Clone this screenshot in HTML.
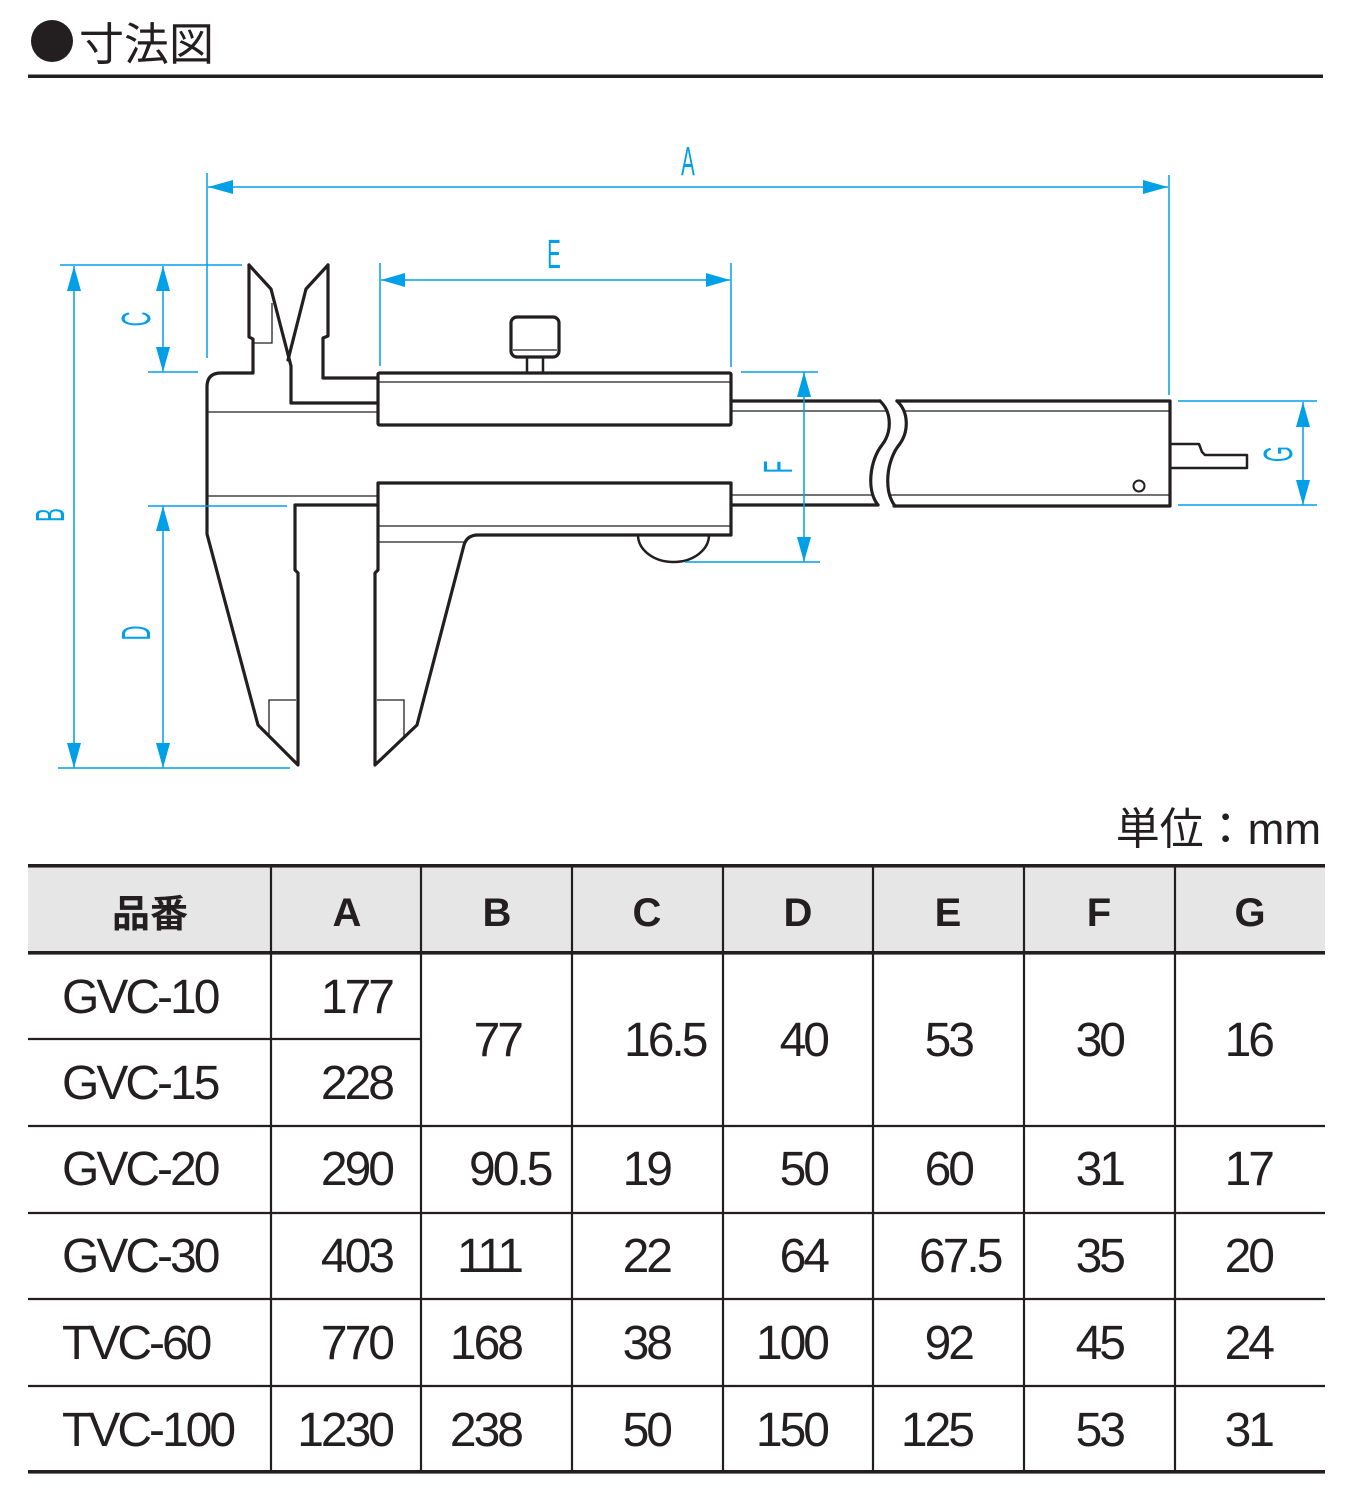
<!DOCTYPE html>
<html><head><meta charset="utf-8">
<style>
html,body{margin:0;padding:0;background:#fff;}
svg{display:block;}
</style></head><body>
<svg width="1350" height="1500" viewBox="0 0 1350 1500" xmlns="http://www.w3.org/2000/svg">
<rect width="1350" height="1500" fill="#fff"/>
<!-- Title -->
<circle cx="52" cy="41" r="21" fill="#231f20"/>
<text x="79" y="60" font-family="'Liberation Sans','Noto Sans CJK JP',sans-serif" font-size="45" fill="#231f20">寸法図</text>
<rect x="28" y="74.5" width="1295" height="3.5" fill="#231f20"/>

<!-- Caliper drawing (black) -->
<g fill="none" stroke="#231f20" stroke-width="3.2" stroke-linejoin="round" stroke-linecap="round">
  <path d="M249,265 L249,337 L253,339 L253,373 L221,373 Q207,373 207,387 L207,534 L258,725 L298,765 L298,573 L295,570 L295,505 L378,505"/>
  <path d="M249,265 L271,289 L291,366 L291,403 L378,403"/>
  <path d="M328,265 L306,289 L288,360"/>
  <path d="M328,265 L328,336 L323,338 L323,378 L378,378"/>
  <rect x="378" y="373" width="353" height="52" rx="1.5"/>
  <path d="M378,483 L731,483 L731,535 L478,535 Q467,535 464,545 L417,725 L375,765 L375,573 L378,570 Z"/>
  <path d="M731,401 L880,401"/>
  <path d="M731,505 L878,505"/>
  <path d="M880,401 C892,412 892,432 882,445 C870,460 866,490 878,505"/>
  <path d="M897,401 C909,412 909,432 899,445 C887,460 883,490 895,506"/>
  <path d="M897,401 L1170,401 L1170,506 L894,506"/>
  <rect x="511" y="317" width="48" height="40" rx="6"/>
</g>
<g fill="none" stroke="#231f20" stroke-width="2.5" stroke-linejoin="round">
  <path d="M527,357 L527,373 M543,357 L543,373"/>
  <path d="M638,535 A35.5,27 0 0 0 709,535"/>
  <path d="M1170,444 L1199,444 L1202,452 L1205,455 L1247,455 L1247,468 L1170,468"/>
  <circle cx="1139" cy="486" r="5.5" stroke-width="2"/>
</g>
<g fill="none" stroke="#231f20" stroke-width="1.3">
  <path d="M207,412 L378,412 M207,496 L378,496 M378,382 L731,382 M378,526 L731,526 M378,542 L465,542"/>
  <path d="M731,411 L888,411 M905,411 L1170,411 M731,495 L873,495 M890,495 L1170,495"/>
  <path d="M269,736 L269,700 L296,700 M377,700 L404,700 L404,736 M254,343 L272,343 L272,303"/>
  <path d="M513,350 L557,350"/>
</g>

<!-- Dimension lines (blue) -->
<g stroke="#00a0e9" stroke-width="1.5" fill="none">
  <path d="M208,187 L1168,187 M207,173 L207,358 M1169,175 L1169,395"/>
  <path d="M381,280 L730,280 M380,263 L380,366 M731,263 L731,367"/>
  <path d="M74,266 L74,768 M60,265 L242,265 M58,768 L290,768"/>
  <path d="M163,266 L163,372 M148,372 L198,372"/>
  <path d="M163,506 L163,768 M148,506 L287,506"/>
  <path d="M804,372 L804,562 M741,372 L818,372 M685,562 L820,562"/>
  <path d="M1303,402 L1303,505 M1178,401 L1317,401 M1178,505 L1317,505"/>
</g>
<g fill="#00a0e9">
  <polygon points="208,187 233,180 233,194"/>
  <polygon points="1168,187 1143,180 1143,194"/>
  <polygon points="381,280 405,273 405,287"/>
  <polygon points="730,280 706,273 706,287"/>
  <polygon points="74,266 67,291 81,291"/>
  <polygon points="74,768 67,743 81,743"/>
  <polygon points="163,266 156,291 170,291"/>
  <polygon points="163,372 156,347 170,347"/>
  <polygon points="163,506 156,531 170,531"/>
  <polygon points="163,768 156,743 170,743"/>
  <polygon points="804,372 797,397 811,397"/>
  <polygon points="804,562 797,537 811,537"/>
  <polygon points="1303,402 1296,427 1310,427"/>
  <polygon points="1303,505 1296,480 1310,480"/>
</g>
<g fill="#00a0e9" font-family="'Liberation Sans',sans-serif" font-size="41" text-anchor="middle">
  <text transform="translate(688,175) scale(0.5,1)">A</text>
  <text transform="translate(554,268) scale(0.5,1)">E</text>
  <text transform="translate(64,515) rotate(-90) scale(0.5,1)">B</text>
  <text transform="translate(150,319) rotate(-90) scale(0.5,1)">C</text>
  <text transform="translate(150,633) rotate(-90) scale(0.5,1)">D</text>
  <text transform="translate(792,467) rotate(-90) scale(0.5,1)">F</text>
  <text transform="translate(1292,454) rotate(-90) scale(0.5,1)">G</text>
</g>

<!-- Unit -->
<text x="1321" y="844" text-anchor="end" font-family="'Liberation Sans','Noto Sans CJK JP',sans-serif" font-size="44" fill="#231f20">単位：mm</text>

<!-- Table -->
<rect x="28" y="868" width="1297" height="83" fill="#e6e6e6"/>
<rect x="28" y="864" width="1297" height="3.6" fill="#231f20"/>
<rect x="28" y="951" width="1297" height="3.6" fill="#231f20"/>
<rect x="28" y="1470" width="1297" height="3.6" fill="#231f20"/>
<g stroke="#231f20" stroke-width="2.2">
  <path d="M271,866 L271,1472 M421,866 L421,1472 M572,866 L572,1472 M723,866 L723,1472 M873,866 L873,1472 M1024,866 L1024,1472 M1175,866 L1175,1472"/>
  <path d="M28,1039 L421,1039"/>
  <path d="M28,1126 L1325,1126 M28,1213 L1325,1213 M28,1299 L1325,1299 M28,1386 L1325,1386"/>
</g>
<g fill="#231f20" font-family="'Liberation Sans','Noto Sans CJK JP',sans-serif" font-weight="bold" text-anchor="middle">
  <text x="150" y="927" font-size="38">品番</text>
  <text x="347" y="926" font-size="40">A</text>
  <text x="497" y="926" font-size="40">B</text>
  <text x="647" y="926" font-size="40">C</text>
  <text x="798" y="926" font-size="40">D</text>
  <text x="948" y="926" font-size="40">E</text>
  <text x="1099" y="926" font-size="40">F</text>
  <text x="1250" y="926" font-size="40">G</text>
</g>
<g fill="#231f20" font-family="'Liberation Sans',sans-serif" font-size="48" letter-spacing="-3">
  <text x="62" y="1013">GVC-10</text>
  <text x="62" y="1099">GVC-15</text>
  <text x="62" y="1185">GVC-20</text>
  <text x="62" y="1272">GVC-30</text>
  <text x="62" y="1359">TVC-60</text>
  <text x="62" y="1446">TVC-100</text>
  <text x="469" y="1185">90.5</text>
  <text x="624" y="1056">16.5</text>
  <text x="919" y="1272">67.5</text>
</g>
<g fill="#231f20" font-family="'Liberation Sans',sans-serif" font-size="48" letter-spacing="-3" text-anchor="end">
  <text x="392" y="1013">177</text>
  <text x="392" y="1099">228</text>
  <text x="392" y="1185">290</text>
  <text x="392" y="1272">403</text>
  <text x="392" y="1359">770</text>
  <text x="392" y="1446">1230</text>

  <text x="521" y="1056">77</text>
  <text x="521" y="1272">111</text>
  <text x="521" y="1359">168</text>
  <text x="521" y="1446">238</text>

  <text x="670" y="1185">19</text>
  <text x="670" y="1272">22</text>
  <text x="670" y="1359">38</text>
  <text x="670" y="1446">50</text>

  <text x="827" y="1056">40</text>
  <text x="827" y="1185">50</text>
  <text x="827" y="1272">64</text>
  <text x="827" y="1359">100</text>
  <text x="827" y="1446">150</text>

  <text x="972" y="1056">53</text>
  <text x="972" y="1185">60</text>
  <text x="972" y="1359">92</text>
  <text x="972" y="1446">125</text>

  <text x="1123" y="1056">30</text>
  <text x="1123" y="1185">31</text>
  <text x="1123" y="1272">35</text>
  <text x="1123" y="1359">45</text>
  <text x="1123" y="1446">53</text>

  <text x="1272" y="1056">16</text>
  <text x="1272" y="1185">17</text>
  <text x="1272" y="1272">20</text>
  <text x="1272" y="1359">24</text>
  <text x="1272" y="1446">31</text>
</g>
</svg>
</body></html>
